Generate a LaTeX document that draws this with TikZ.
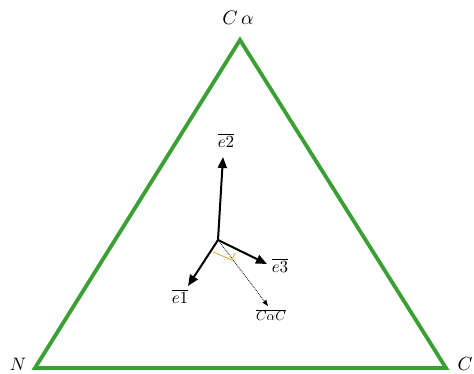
\documentclass[tikz,border=0pt]{standalone}
\usetikzlibrary{arrows.meta}
\definecolor{tgreen}{RGB}{58,160,52}
\definecolor{torange}{RGB}{240,170,50}
\begin{document}
\begin{tikzpicture}[x=1pt,y=-1pt,
  tri/.style={draw=tgreen,line width=3.8pt,line join=miter},
  vec/.style={-{Triangle[length=11pt,width=9pt]},line width=2pt},
  lbl/.style={inner sep=0pt}]
\useasboundingbox (0,0) rectangle (474,374);
\coordinate (A) at (240,40);
\coordinate (B) at (35,368);
\coordinate (C) at (446,368);
\draw[tri] (A) -- (B) -- (C) -- cycle;
\node[lbl,scale=1.95] (lA) at (238,18) {$C\,\alpha$};
\node[lbl,scale=1.8] (lB) at (18,364) {$N$};
\node[lbl,scale=1.9] (lC) at (465,364) {$C$};
\coordinate (O) at (218,240);
\coordinate (e2) at (223,157);
\coordinate (e3) at (267,264);
\coordinate (e1) at (188,286);
\coordinate (cc) at (268,306);
\draw[vec] (O) -- (e2);
\draw[vec] (O) -- (e3);
\draw[vec] (O) -- (e1);
\draw[densely dotted,line width=0.8pt,-{Triangle[length=6pt,width=4.5pt]}] (O) -- (cc);
\draw[torange,line width=0.9pt] (213,252) -- (232,260) -- (235,253);
\node[lbl,scale=1.7] (l2) at (226,140) {$\overline{e2}$};
\node[lbl,scale=1.7] (l3) at (280,265) {$\overline{e3}$};
\node[lbl,scale=1.7] (l1) at (180,296) {$\overline{e1}$};
\node[lbl,scale=1.35] (lc) at (271,315) {$\overline{C\alpha C}$};
\end{tikzpicture}
\end{document}
